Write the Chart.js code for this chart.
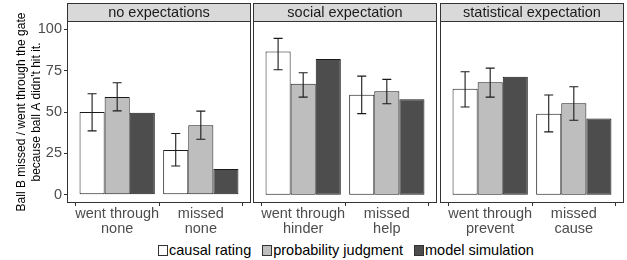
<!DOCTYPE html>
<html><head><meta charset="utf-8">
<script src="https://cdn.jsdelivr.net/npm/chart.js@4/dist/chart.umd.min.js"></script>
<style>
html,body{margin:0;padding:0;background:#fff;}
#wrap{position:relative;width:627px;height:260px;overflow:hidden;font-family:"Liberation Sans",Arial,sans-serif;background:#fff;}
canvas{position:absolute;top:0;}
#legend{position:absolute;left:158px;top:242px;display:flex;align-items:center;font-size:14.5px;line-height:17px;color:#000;white-space:nowrap;}
.item{display:flex;align-items:center;margin-right:11px;}
.box{width:8px;height:9px;border:1px solid #333;margin-right:1px;}
</style></head><body>
<div id="wrap">
<canvas id="c0" width="251" height="240" style="left:0px"></canvas>
<canvas id="c1" width="184" height="240" style="left:253px"></canvas>
<canvas id="c2" width="184" height="240" style="left:440px"></canvas>
<div id="legend"></div>
</div>
<script>
// ---- data ----
const panelTitles = ['no expectations', 'social expectation', 'statistical expectation'];
const categories = [
  ['went through', 'none'], ['missed', 'none'],
  ['went through', 'hinder'], ['missed', 'help'],
  ['went through', 'prevent'], ['missed', 'cause']
];
const seriesNames = ['causal rating', 'probability judgment', 'model simulation'];
const causalRating = [50, 27, 86.5, 60.5, 64, 49];
const causalLow    = [38.6, 17.4, 75.5, 49, 53, 38];
const causalHigh   = [61, 37, 94.5, 71.7, 74.3, 60.3];
const probJudgment = [59, 42, 67, 62.5, 68, 55.3];
const probLow      = [50.7, 33.5, 59, 55, 59, 45];
const probHigh     = [67.7, 50.5, 73.7, 69.7, 76.5, 65.3];
const modelSim     = [49.5, 15.5, 82, 57.7, 71.3, 46];
const yTicks = [0, 25, 50, 75, 100];
const yTitle = ['Ball B missed / went through the gate', "because ball A didn't hit it."];

const colors = ['#FFFFFF', '#BEBEBE', '#4D4D4D'];
const FONT = '"Liberation Sans", Arial, sans-serif';

function panelPlugin(p, errs) {
  return {
    id: 'panel' + p,
    afterDatasetsDraw(chart) {
      const ctx = chart.ctx;
      const ys = chart.scales.y;
      ctx.save();
      ctx.strokeStyle = '#1a1a1a';
      ctx.lineWidth = 1.1;
      errs.forEach((e, di) => {
        if (!e) return;
        const meta = chart.getDatasetMeta(di);
        meta.data.forEach((bar, j) => {
          const x = bar.x;
          const yl = ys.getPixelForValue(e.lo[j]);
          const yh = ys.getPixelForValue(e.hi[j]);
          const hw = 4.5;
          ctx.beginPath();
          ctx.moveTo(x, yl); ctx.lineTo(x, yh);
          ctx.moveTo(x - hw, yl); ctx.lineTo(x + hw, yl);
          ctx.moveTo(x - hw, yh); ctx.lineTo(x + hw, yh);
          ctx.stroke();
        });
      });
      ctx.restore();
    },
    afterDraw(chart) {
      const ctx = chart.ctx;
      const a = chart.chartArea;
      ctx.save();
      ctx.strokeStyle = '#333';
      ctx.lineWidth = 1;
      ctx.strokeRect(Math.round(a.left) + 0.5, Math.round(a.top) + 0.5,
                     Math.round(a.right - a.left) - 1, Math.round(a.bottom - a.top) - 1);
      const sTop = 3;
      ctx.fillStyle = '#D9D9D9';
      ctx.fillRect(Math.round(a.left), sTop, Math.round(a.right - a.left), Math.round(a.top) - sTop);
      ctx.strokeRect(Math.round(a.left) + 0.5, sTop + 0.5, Math.round(a.right - a.left) - 1, Math.round(a.top) - sTop);
      ctx.fillStyle = '#1A1A1A';
      ctx.font = '14.5px ' + FONT;
      ctx.textAlign = 'center';
      ctx.textBaseline = 'middle';
      ctx.fillText(panelTitles[p], (a.left + a.right) / 2, (sTop + a.top) / 2 + 0.5);
      ctx.restore();
    }
  };
}

function makeChart(p) {
  const k0 = 2 * p, k1 = 2 * p + 1;
  const pick = arr => [arr[k0], arr[k1]];
  const series = [causalRating, probJudgment, modelSim];
  const datasets = series.map((arr, i) => ({
    label: seriesNames[i],
    data: pick(arr).map((v, j) => ({ x: j + 1, y: v })),
    backgroundColor: colors[i],
    borderColor: '#1a1a1a',
    borderWidth: 1,
    borderSkipped: false,
    categoryPercentage: 0.9,
    barPercentage: 1.0
  }));
  const errs = [
    { lo: pick(causalLow), hi: pick(causalHigh) },
    { lo: pick(probLow), hi: pick(probHigh) },
    null
  ];
  const first = p === 0;
  new Chart(document.getElementById('c' + p), {
    type: 'bar',
    data: { datasets },
    options: {
      responsive: false,
      animation: false,
      devicePixelRatio: 1,
      layout: { padding: { top: 21, left: 0, right: 0, bottom: 0 } },
      plugins: { legend: { display: false }, tooltip: { enabled: false } },
      scales: {
        x: {
          type: 'linear', min: 0.4, max: 2.6, offset: false,
          afterBuildTicks: s => { s.ticks = [{ value: 1 }, { value: 2 }]; },
          afterFit: s => { s.height = 37; },
          ticks: {
            callback: (v, i) => categories[2 * p + i],
            color: '#4D4D4D',
            font: { family: FONT, size: 14.5, lineHeight: 1.0 },
            padding: 1,
            maxRotation: 0, autoSkip: false
          },
          grid: { drawOnChartArea: false, drawTicks: true, tickLength: 3, tickColor: '#333', color: '#333' },
          border: { display: false }
        },
        y: {
          display: first,
          min: -5, max: 105,
          afterBuildTicks: s => { s.ticks = yTicks.map(v => ({ value: v })); },
          afterFit: s => { s.width = first ? 67 : 0; },
          ticks: {
            color: '#4D4D4D',
            font: { family: FONT, size: 14.5 },
            padding: 2
          },
          grid: { drawOnChartArea: false, drawTicks: true, tickLength: 3, tickColor: '#333', color: '#333' },
          border: { display: false },
          title: {
            display: true,
            text: yTitle,
            color: '#000',
            font: { family: FONT, size: 12, lineHeight: 1.25 },
            padding: { top: 14, bottom: 0 }
          }
        }
      }
    },
    plugins: [panelPlugin(p, errs)]
  });
}

[0, 1, 2].forEach(makeChart);

// legend
const leg = document.getElementById('legend');
seriesNames.forEach((n, i) => {
  const it = document.createElement('div');
  it.className = 'item';
  const b = document.createElement('div');
  b.className = 'box';
  b.style.background = colors[i];
  const t = document.createElement('span');
  t.textContent = n;
  it.appendChild(b); it.appendChild(t);
  leg.appendChild(it);
});
</script>
</body></html>
